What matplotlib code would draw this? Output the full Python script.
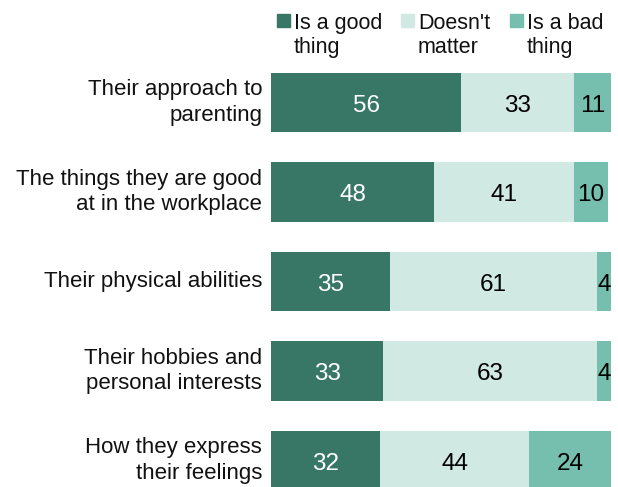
import matplotlib
matplotlib.use("Agg")
import matplotlib.pyplot as plt
from matplotlib.patches import Rectangle

categories = [
    "Their approach to\nparenting",
    "The things they are good\nat in the workplace",
    "Their physical abilities",
    "Their hobbies and\npersonal interests",
    "How they express\ntheir feelings",
]
good = [56, 48, 35, 33, 32]
no_matter = [33, 41, 61, 63, 44]
bad = [11, 10, 4, 4, 24]

series_names = ["Is a good\nthing", "Doesn't\nmatter", "Is a bad\nthing"]
colors = ["#387766", "#d0e9e3", "#76bfae"]
text_colors = ["white", "black", "black"]

plt.rcParams["font.family"] = ["Liberation Sans", "DejaVu Sans"]

W, H = 618, 487
fig = plt.figure(figsize=(W / 100, H / 100), dpi=100)

top_px = 57.75
ax = fig.add_axes([271 / W, 0, (611 - 271) / W, (H - top_px) / H])
ax.set_xlim(0, 100)
ax.set_ylim((H - 102.5) / 89.5, -0.5)
ax.axis("off")

ypos = list(range(len(categories)))
series = [good, no_matter, bad]
left = [0] * len(categories)
for vals, col, tcol in zip(series, colors, text_colors):
    ax.barh(ypos, vals, left=left, height=0.66, color=col, edgecolor="none")
    for y, v, l in zip(ypos, vals, left):
        ax.text(l + v / 2, y + 0.035, str(v), ha="center", va="center",
                color=tcol, fontsize=17.5)
    left = [a + b for a, b in zip(left, vals)]

for y, cat in zip(ypos, categories):
    ax.text(-2.6, y, cat, ha="right", va="center", fontsize=16,
            color="#111111", linespacing=1.25)

# Legend drawn as swatches with two-line labels
leg_x = [277, 401, 510]
for x, name, col in zip(leg_x, series_names, colors):
    fig.patches.append(Rectangle((x / W, 1 - 27 / H), 13 / W, 13 / H,
                                 transform=fig.transFigure, color=col))
    fig.text((x + 17) / W, 1 - 13 / H, name, ha="left", va="top",
             fontsize=15.5, color="#111111", linespacing=1.2)

fig.savefig("out.png", dpi=100)
